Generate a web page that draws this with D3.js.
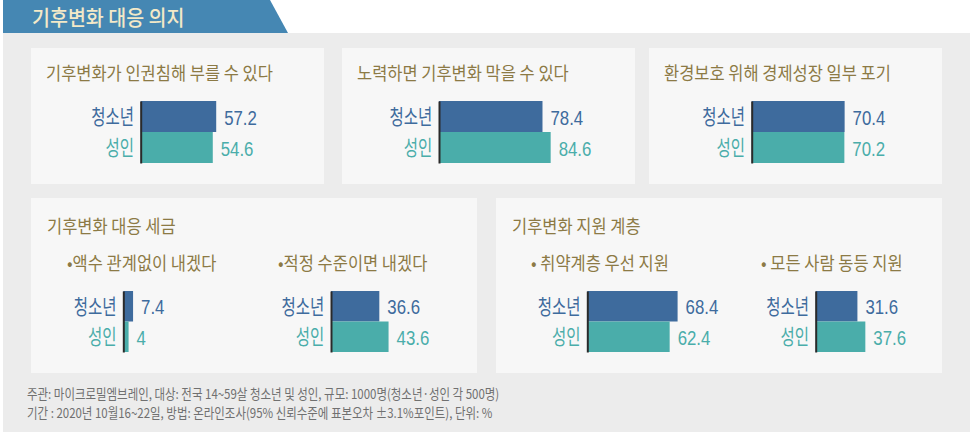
<!DOCTYPE html>
<html><head><meta charset="utf-8">
<script src="https://cdn.jsdelivr.net/npm/d3@7"></script>
<style>
html,body{margin:0;padding:0;background:#fff;}
svg{display:block;font-family:"Noto Sans CJK KR","Noto Sans",sans-serif;}
</style></head>
<body><svg id="c" width="970" height="437"></svg>
<script>
// ---- data ----
const chartTitle = "기후변화 대응 의지";
const seriesNames = ["청소년", "성인"];
const topCategories = ["기후변화가 인권침해 부를 수 있다", "노력하면 기후변화 막을 수 있다", "환경보호 위해 경제성장 일부 포기"];
const youthTop = [57.2, 78.4, 70.4];
const adultTop = [54.6, 84.6, 70.2];
const bottomGroups = ["기후변화 대응 세금", "기후변화 지원 계층"];
const bottomItems = ["•액수 관계없이 내겠다", "•적정 수준이면 내겠다", "• 취약계층 우선 지원", "• 모든 사람 동등 지원"];
const youthBottom = [7.4, 36.6, 68.4, 31.6];
const adultBottom = [4, 43.6, 62.4, 37.6];
const footnotes = [
  "주관: 마이크로밀엠브레인, 대상: 전국 14~59살 청소년 및 성인, 규모: 1000명(청소년·성인 각 500명)",
  "기간 : 2020년 10월16~22일, 방법: 온라인조사(95% 신뢰수준에 표본오차 ±3.1%포인트), 단위: %"
];

// ---- style / layout ----
const colors = {youth:"#3e6b9d", adult:"#4aadaa", title:"#8c7a45", banner:"#4587b3", bannerText:"#f3e9c8"};
const seriesColor = d3.scaleOrdinal().domain(seriesNames).range([colors.youth, colors.adult]);
const x = d3.scaleLinear().domain([0, 100]).range([0, 132]);

const svg = d3.select("#c");
svg.append("rect").attr("x",3).attr("y",33).attr("width",967).attr("height",399).attr("fill","#ececec");
svg.append("path").attr("d","M3,0 L270,0 L288,33 L3,33 Z").attr("fill",colors.banner);

function condensed(sel, sx){
  sel.each(function(){
    const t=d3.select(this); const xx=+t.attr("x")||0;
    t.attr("transform",`translate(${xx},0) scale(${sx},1) translate(${-xx},0)`);
  });
}

const bt = svg.append("text").attr("x",32).attr("y",16).attr("dominant-baseline","central")
  .attr("font-size",21).attr("font-weight",500).attr("fill",colors.bannerText).text(chartTitle);
condensed(bt,0.93);

function drawBars(g, axisX, top, h, vals){
  const y = d3.scaleBand().domain(seriesNames).range([0, h]).padding(0);
  const gg = g.append("g").attr("transform",`translate(${axisX},${top})`);
  const data = seriesNames.map((s,i)=>({s, v: vals[i]}));
  gg.selectAll("rect.bar").data(data).enter().append("rect").attr("class","bar")
    .attr("x",0).attr("y",d=>y(d.s)).attr("width",d=>x(d.v)).attr("height",y.bandwidth())
    .attr("fill",d=>seriesColor(d.s));
  gg.selectAll("text.val").data(data).enter().append("text").attr("class","val")
    .attr("x",d=>x(d.v)+8).attr("y",d=>y(d.s)+y.bandwidth()/2+1).attr("dominant-baseline","central")
    .attr("font-family","'Liberation Sans',Arial,sans-serif").attr("font-size",21)
    .attr("fill",d=>seriesColor(d.s)).text(d=>d.v)
    .each(function(d){ const xx=x(d.v)+8; d3.select(this).attr("transform",`translate(${xx},0) scale(0.8,1) translate(${-xx},0)`); });
  const ax = gg.append("g").call(d3.axisLeft(y).tickSize(0).tickSizeOuter(0).tickPadding(9));
  ax.select(".domain").attr("stroke","#2a2a2a").attr("stroke-width",2);
  ax.selectAll(".tick text").attr("font-family","'Noto Sans CJK KR',sans-serif").attr("font-size",21)
    .attr("font-weight",400).attr("fill",d=>seriesColor(d)).attr("dy","0.35em")
    .attr("transform","scale(0.74,1)");
}

const topPanels = [{x:31, axis:140.7}, {x:342, axis:439}, {x:649, axis:751.7}];
topCategories.forEach((cat,i)=>{
  const p = topPanels[i];
  const g = svg.append("g");
  g.append("rect").attr("x",p.x).attr("y",48).attr("width",293).attr("height",136).attr("fill","#f7f7f7");
  const t = g.append("text").attr("x",p.x+15).attr("y",72).attr("dominant-baseline","central")
    .attr("font-size",18).attr("fill",colors.title).text(cat);
  condensed(t,0.915);
  drawBars(g, p.axis, 101, 62, [youthTop[i], adultTop[i]]);
});

const bottomPanels = [{x:31, w:446, subs:[{sx:67, axis:123.3},{sx:278, axis:331}]},
                      {x:496, w:446, subs:[{sx:531, axis:587.3},{sx:761, axis:815.7}]}];
bottomGroups.forEach((grp,i)=>{
  const p = bottomPanels[i];
  const g = svg.append("g");
  g.append("rect").attr("x",p.x).attr("y",198).attr("width",p.w).attr("height",175).attr("fill","#f7f7f7");
  const t = g.append("text").attr("x",p.x+16).attr("y",225).attr("dominant-baseline","central")
    .attr("font-size",18).attr("fill",colors.title).text(grp);
  condensed(t,0.915);
  p.subs.forEach((s,j)=>{
    const k = i*2+j;
    const st = g.append("text").attr("x",s.sx).attr("y",262).attr("dominant-baseline","central")
      .attr("font-size",18).attr("fill",colors.title).text(bottomItems[k]);
    condensed(st,0.915);
    drawBars(g, s.axis, 291, 61, [youthBottom[k], adultBottom[k]]);
  });
});

footnotes.forEach((f,i)=>{
  const t = svg.append("text").attr("x",27).attr("y",393+i*19).attr("dominant-baseline","central")
    .attr("font-size",13.5).attr("fill","#707070").text(f);
  condensed(t,0.85);
});
</script></body></html>
